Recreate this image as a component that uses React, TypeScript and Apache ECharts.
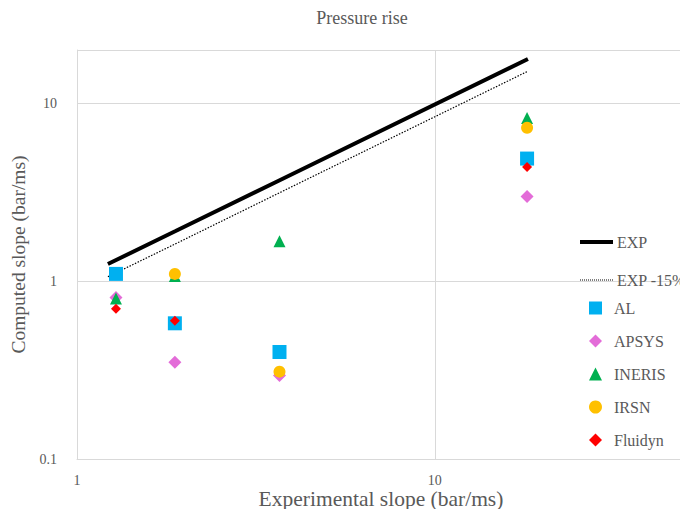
import React, { useEffect, useRef } from "react";
import * as echarts from "echarts";

const expX = [1.22, 1.88, 3.66, 18.2];
const expY = [1.25, 1.91, 3.68, 17.8];
const exp15Y = [1.06, 1.62, 3.13, 15.2];

const ptX = [1.285, 1.877, 3.68, 18.1];
const alY = [1.1, 0.58, 0.4, 4.9];
const apsysY = [0.81, 0.35, 0.295, 3.0];
const inerisY = [0.8, 1.07, 1.68, 8.3];
const irsnY = [null, 1.1, 0.31, 7.3];
const fluidynY = [0.7, 0.6, null, 4.4];

const pairs = (xs: number[], ys: (number | null)[]) =>
  xs.map((x, i) => [x, ys[i]]).filter((p) => p[1] !== null);

const gray = "#595959";
const serif = "'Liberation Serif', 'Times New Roman', serif";

const dotPath = (() => {
  let d = "path://";
  for (let i = 0; i < 17; i++) d += `M${i * 2},0h1v1h-1z`;
  return d;
})();
const solidPath = "path://M0,0H33V4H0Z";

export default function App() {
  const ref = useRef<HTMLDivElement>(null);
  useEffect(() => {
    const chart = echarts.init(ref.current!, null, { renderer: "svg" });
    const isPow10 = (v: number) => Math.abs(Math.log10(v) - Math.round(Math.log10(v))) < 1e-6;
    chart.setOption({
      animation: false,
      backgroundColor: "#fff",
      textStyle: { fontFamily: serif },
      title: {
        text: "Pressure rise",
        left: 357,
        textAlign: "center",
        top: 4,
        textStyle: { fontFamily: serif, fontSize: 18, fontWeight: "normal", color: gray },
      },
      grid: { left: 77, right: 2, top: 50, bottom: 58 },
      xAxis: {
        type: "log",
        logBase: 10,
        min: 1,
        max: 50,
        name: "Experimental slope (bar/ms)",
        nameLocation: "middle",
        nameGap: 29,
        nameMoveOverlap: false,
        nameTextStyle: { fontFamily: serif, fontSize: 21.5, color: gray },
        axisLine: { show: true, lineStyle: { color: "#d9d9d9", width: 1 } },
        axisTick: { show: false },
        axisLabel: {
          color: gray,
          fontFamily: serif,
          fontSize: 14,
          margin: 14,
          formatter: (v: number) => (isPow10(v) ? String(Math.round(v * 1000) / 1000) : ""),
        },
        splitLine: { show: true, lineStyle: { color: "#d9d9d9", width: 1 } },
        minorSplitLine: { show: false },
      },
      yAxis: {
        type: "log",
        logBase: 10,
        min: 0.1,
        max: 20,
        name: "Computed slope (bar/ms)",
        nameLocation: "middle",
        nameGap: 49,
        nameTextStyle: { fontFamily: serif, fontSize: 19.5, color: gray },
        axisLine: { show: true, lineStyle: { color: "#d9d9d9", width: 1 } },
        axisTick: { show: false },
        axisLabel: {
          color: gray,
          fontFamily: serif,
          fontSize: 14,
          margin: 20,
          formatter: (v: number) => (isPow10(v) ? String(Math.round(v * 1000) / 1000) : ""),
        },
        splitLine: { show: true, lineStyle: { color: "#d9d9d9", width: 1 } },
      },
      legend: [
        {
          orient: "vertical",
          left: 575,
          top: 229,
          itemWidth: 33,
          itemHeight: 14,
          itemGap: 22,
          textStyle: { fontFamily: serif, fontSize: 16, color: gray, padding: [0, 0, 0, -1] },
          data: [
            { name: "EXP", icon: solidPath },
            { name: "EXP -15%", icon: dotPath },
          ],
        },
        {
          orient: "vertical",
          left: 584,
          top: 295,
          itemWidth: 13,
          itemHeight: 13,
          itemGap: 17,
          textStyle: { fontFamily: serif, fontSize: 16, color: gray, padding: [0, 0, 0, 7] },
          data: ["AL", "APSYS", "INERIS", "IRSN", "Fluidyn"],
        },
      ],
      series: [
        {
          name: "EXP",
          type: "line",
          data: pairs(expX, expY),
          showSymbol: false,
          symbol: "none",
          lineStyle: { color: "#000", width: 4 },
          itemStyle: { color: "#000" },
          z: 1,
        },
        {
          name: "EXP -15%",
          type: "line",
          data: pairs(expX, exp15Y),
          showSymbol: false,
          symbol: "none",
          lineStyle: { color: "#000", width: 1.2, type: [1.5, 1.5] },
          itemStyle: { color: "#000" },
          z: 1,
        },
        {
          name: "AL",
          type: "scatter",
          symbol: "rect",
          symbolSize: 14,
          data: pairs(ptX, alY),
          itemStyle: { color: "#00B0F0", opacity: 1 },
          z: 3,
        },
        {
          name: "APSYS",
          type: "scatter",
          symbol: "diamond",
          symbolSize: 13,
          data: pairs(ptX, apsysY),
          itemStyle: { color: "#E36CD8", opacity: 1 },
          z: 3,
        },
        {
          name: "INERIS",
          type: "scatter",
          symbol: "triangle",
          symbolSize: 12,
          data: pairs(ptX, inerisY),
          itemStyle: { color: "#00B050", opacity: 1 },
          z: 4,
        },
        {
          name: "IRSN",
          type: "scatter",
          symbol: "circle",
          symbolSize: 12,
          data: pairs(ptX, irsnY),
          itemStyle: { color: "#FFC000", opacity: 1 },
          z: 5,
        },
        {
          name: "Fluidyn",
          type: "scatter",
          symbol: "diamond",
          symbolSize: 10,
          data: pairs(ptX, fluidynY),
          itemStyle: { color: "#FF0000", opacity: 1 },
          z: 6,
        },
      ],
    });
    return () => chart.dispose();
  }, []);
  return <div ref={ref} style={{ width: 688, height: 517, margin: -8 }} />;
}
